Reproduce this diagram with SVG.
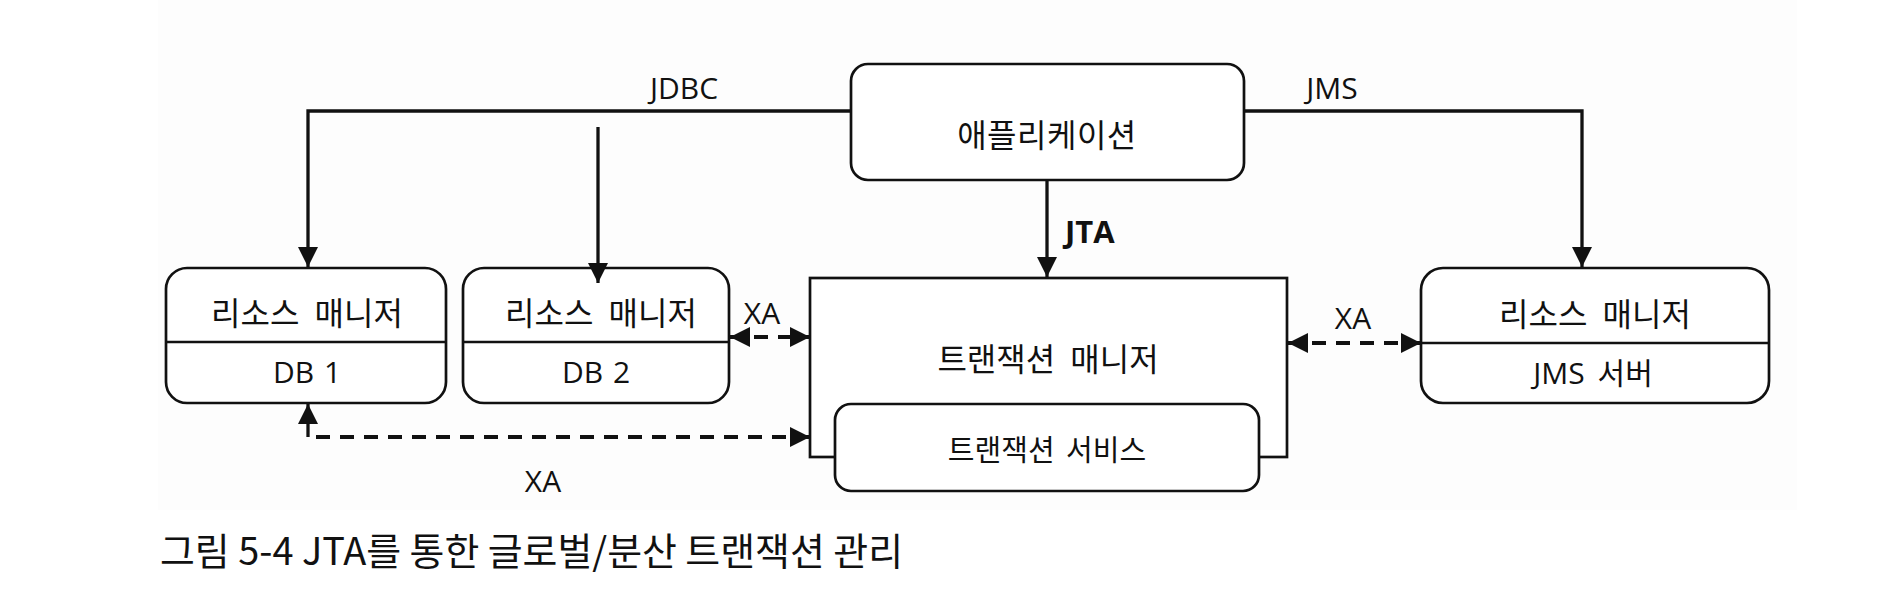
<svg xmlns="http://www.w3.org/2000/svg" width="1896" height="601" viewBox="0 0 1896 601">
<style>
text{font-family:"Open Sans","Noto Sans CJK KR",sans-serif;fill:#111;}
.k{font-family:"Noto Sans CJK KR","Noto Sans",sans-serif;font-size:32px;text-anchor:middle;dominant-baseline:central;word-spacing:8px;}
.e{font-family:"Open Sans","Noto Sans CJK KR",sans-serif;font-size:30px;text-anchor:middle;dominant-baseline:central;word-spacing:2px;}
.l{font-size:30px;text-anchor:middle;dominant-baseline:central;}
.box{fill:#fff;stroke:#111;stroke-width:2.7;}
.div{stroke:#111;stroke-width:2.7;}
.solid{fill:none;stroke:#111;stroke-width:3.3;}
.dash{fill:none;stroke:#111;stroke-width:4;stroke-dasharray:14 10;}
</style>
<defs>
<marker id="ah" markerUnits="userSpaceOnUse" markerWidth="20" markerHeight="20" refX="20" refY="10" orient="auto-start-reverse" viewBox="0 0 20 20">
<path d="M0,0 L20,10 L0,20 z" fill="#111"/>
</marker>
</defs>
<rect x="158" y="0" width="1639" height="510" fill="#fdfdfd"/>
<g id="app">
<rect class="box" x="851" y="64" width="393" height="116" rx="17"/>
<text class="k" x="1047" y="133" style="letter-spacing:0.5px">애플리케이션</text>
</g>
<g id="rm-db1">
<rect class="box" x="166" y="268" width="280" height="135" rx="21"/>
<line class="div" x1="166" y1="342" x2="446" y2="342"/>
<text class="k" x="307" y="311">리소스 매니저</text>
<text class="e" x="307" y="371">DB 1</text>
</g>
<g id="rm-db2">
<rect class="box" x="463" y="268" width="266" height="135" rx="21"/>
<line class="div" x1="463" y1="342" x2="729" y2="342"/>
<text class="k" x="601" y="311">리소스 매니저</text>
<text class="e" x="596" y="371">DB 2</text>
</g>
<g id="tm">
<rect class="box" x="810" y="278" width="477" height="179"/>
<text class="k" x="1048" y="357">트랜잭션 매니저</text>
</g>
<g id="ts">
<rect class="box" x="835" y="404" width="424" height="87" rx="16"/>
<text class="k" x="1047" y="448" style="font-size:29px;word-spacing:5px">트랜잭션 서비스</text>
</g>
<g id="rm-jms">
<rect class="box" x="1421" y="268" width="348" height="135" rx="22"/>
<line class="div" x1="1421" y1="343" x2="1769" y2="343"/>
<text class="k" x="1595" y="312">리소스 매니저</text>
<text class="e" x="1593" y="372" style="word-spacing:5px">JMS 서버</text>
</g>
<g id="connectors">
<path class="solid" d="M851,111 H308 V267" marker-end="url(#ah)"/>
<path class="solid" d="M598,127 V283" marker-end="url(#ah)"/>
<path class="solid" d="M1244,111 H1582 V267" marker-end="url(#ah)"/>
<path class="solid" d="M1047,180 V277" marker-end="url(#ah)"/>
<path class="dash" d="M730,337 H810" marker-start="url(#ah)" marker-end="url(#ah)"/>
<path class="dash" d="M1288,343 H1421" marker-start="url(#ah)" marker-end="url(#ah)"/>
<path class="solid" d="M308,437 V404" marker-end="url(#ah)"/>
<path class="dash" d="M316,437 H810" marker-end="url(#ah)"/>
<text class="l" x="684" y="87">JDBC</text>
<text class="l" x="1332" y="87">JMS</text>
<text x="1065" y="243" style="font-size:31px;font-weight:bold">JTA</text>
<text class="l" x="762" y="312">XA</text>
<text class="l" x="1353" y="317">XA</text>
<text class="l" x="543" y="480">XA</text>
</g>
<text x="160" y="565" style="font-family:'Noto Sans CJK KR',sans-serif;font-size:38px" textLength="743" lengthAdjust="spacingAndGlyphs">그림 5-4 JTA를 통한 글로벌/분산 트랜잭션 관리</text>
</svg>
